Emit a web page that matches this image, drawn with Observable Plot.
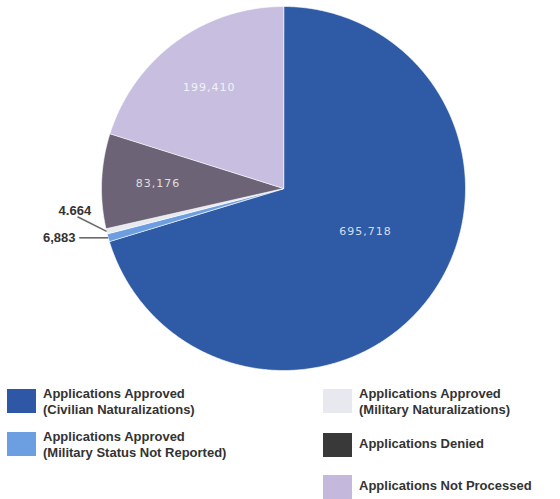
<!DOCTYPE html>
<html>
<head>
<meta charset="utf-8">
<script src="https://cdn.jsdelivr.net/npm/d3@7"></script>
<script src="https://cdn.jsdelivr.net/npm/@observablehq/plot@0.6"></script>
<style>
  html, body { margin: 0; padding: 0; background: #fff; }
  #wrap { position: relative; width: 560px; height: 499px; overflow: hidden; }
  text[aria-label="inside label"] { letter-spacing: 1px; }
  .item { position: absolute; font-family: "Liberation Sans", Arial, sans-serif; font-weight: bold; font-size: 13px; line-height: 16px; color: #333; }
  .sw { position: absolute; width: 29px; height: 24px; }
</style>
</head>
<body>
<div id="wrap"></div>
<script>
const categories = [
  "Applications Approved (Civilian Naturalizations)",
  "Applications Approved (Military Status Not Reported)",
  "Applications Approved (Military Naturalizations)",
  "Applications Denied",
  "Applications Not Processed"
];
const values = [695718, 6883, 4664, 83176, 199410];
const valueLabels = ["695,718", "6,883", "4.664", "83,176", "199,410"];
const sliceColors = ["#2f5aa6", "#6d9fe0", "#e9e9f0", "#6c6476", "#c8bfe0"];
const legendColors = ["#2e58a6", "#6c9fe2", "#e8e8ef", "#393939", "#c4b9dc"];
const legendLines = [
  ["Applications Approved", "(Civilian Naturalizations)"],
  ["Applications Approved", "(Military Status Not Reported)"],
  ["Applications Approved", "(Military Naturalizations)"],
  ["Applications Denied"],
  ["Applications Not Processed"]
];

const total = d3.sum(values);
let acc = 0;
const slices = categories.map((c, i) => {
  const a0 = acc / total * 2 * Math.PI;
  acc += values[i];
  const a1 = acc / total * 2 * Math.PI;
  return {c, i, a0, a1, mid: (a0 + a1) / 2, share: values[i] / total, label: valueLabels[i]};
});

const poly = slices.flatMap(s => {
  const n = Math.max(2, Math.ceil((s.a1 - s.a0) / (Math.PI / 360)));
  const pts = [{c: s.c, x: 0, y: 0}];
  for (let k = 0; k <= n; k++) {
    const a = s.a0 + (s.a1 - s.a0) * k / n;
    pts.push({c: s.c, x: Math.sin(a), y: Math.cos(a)});
  }
  return pts;
});

const inside = slices.filter(s => s.share > 0.05).map(s => {
  const big = s.share > 0.5;
  const r = big ? 0.51 : 0.69;
  const a = big ? s.mid - 0.15 : s.mid;
  return {label: s.label, x: r * Math.sin(a), y: r * Math.cos(a)};
});

const small = slices.filter(s => s.share <= 0.05);
const outside = small.map((s, j) => {
  const ex = Math.sin(s.mid), ey = Math.cos(s.mid);
  const lx = ex - 0.16, ly = ey + j * 0.08;
  const tx = j === 0 ? lx - 0.02 : lx + 0.075;
  const ty = j === 0 ? ly : ly + 0.032;
  return {label: s.label, x1: ex, y1: ey, x2: lx, y2: ly, tx, ty};
});

const chart = Plot.plot({
  width: 560,
  height: 380,
  marginLeft: 101,
  marginRight: 95,
  marginTop: 6,
  marginBottom: 10,
  x: {domain: [-1, 1], axis: null},
  y: {domain: [-1, 1], axis: null},
  color: {domain: categories, range: sliceColors},
  style: {background: "transparent"},
  marks: [
    Plot.line(poly, {x: "x", y: "y", z: "c", fill: "c", stroke: "white", strokeWidth: 0.6, curve: "linear-closed"}),
    Plot.link(outside, {x1: "x1", y1: "y1", x2: "x2", y2: "y2", stroke: "#6a6a6a", strokeWidth: 1.6}),
    Plot.text(outside, {x: "tx", y: "ty", text: "label", textAnchor: "end", fill: "#333", fontSize: 13, fontWeight: "bold", fontFamily: "Liberation Sans, Arial, sans-serif"}),
    Plot.text(inside, {x: "x", y: "y", text: "label", fill: "white", fillOpacity: 0.8, fontSize: 11, fontFamily: "DejaVu Sans, sans-serif", ariaLabel: () => "inside label"})
  ]
});
const wrap = document.getElementById("wrap");
wrap.appendChild(chart);

const legendPos = [
  {sx: 7, sy: 389, tx: 43, ty: 386},
  {sx: 7, sy: 432, tx: 43, ty: 429},
  {sx: 323, sy: 389, tx: 359, ty: 386},
  {sx: 323, sy: 433, tx: 359, ty: 436},
  {sx: 323, sy: 475, tx: 359, ty: 478}
];
categories.forEach((c, i) => {
  const p = legendPos[i];
  const sw = document.createElement("div");
  sw.className = "sw";
  sw.style.left = p.sx + "px";
  sw.style.top = p.sy + "px";
  sw.style.background = legendColors[i];
  wrap.appendChild(sw);
  const t = document.createElement("div");
  t.className = "item";
  t.style.left = p.tx + "px";
  t.style.top = p.ty + "px";
  t.innerHTML = legendLines[i].join("<br>");
  wrap.appendChild(t);
});
</script>
</body>
</html>
